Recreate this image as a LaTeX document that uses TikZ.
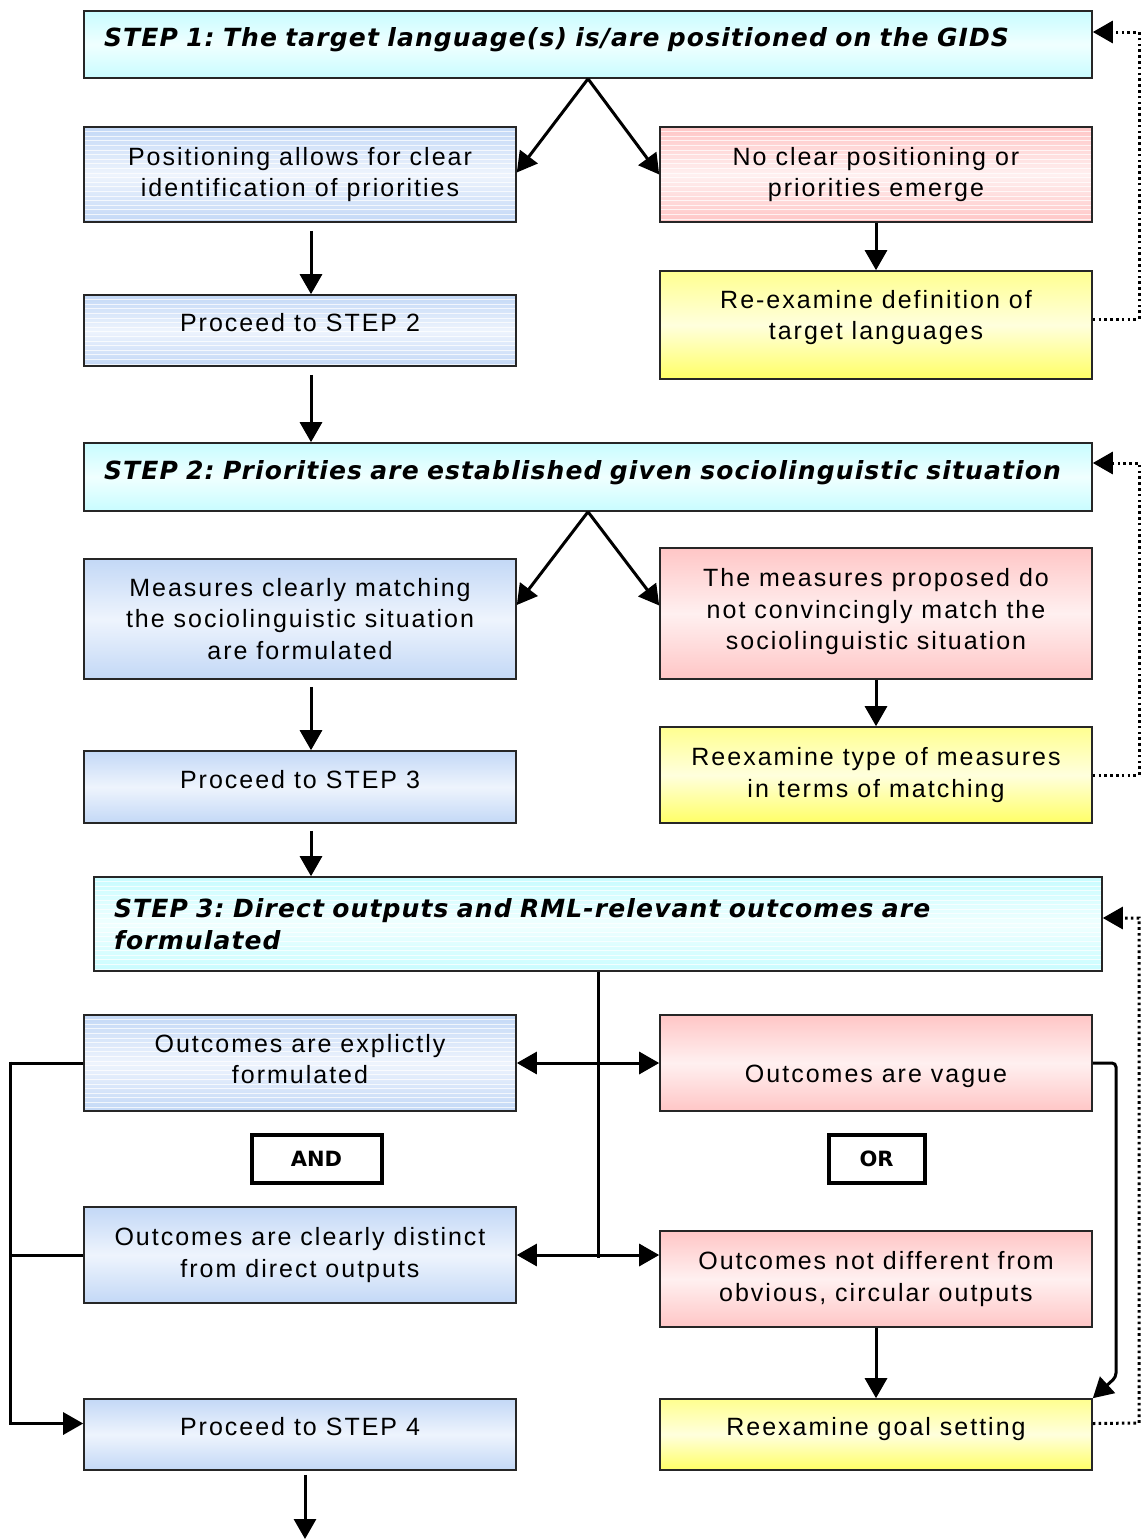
\documentclass[tikz,border=0pt]{standalone}
\usepackage{fontspec}
\setmainfont{Liberation Sans}[LetterSpace=8]
\newfontfamily\headfont{DejaVu Sans}[LetterSpace=4.5]
\newfontfamily\logicfont{DejaVu Sans}
\usetikzlibrary{arrows.meta,calc}

\definecolor{cyanA}{HTML}{C8FCFF}
\definecolor{cyanB}{HTML}{F0FFFF}
\definecolor{blueA}{HTML}{C3D8F6}
\definecolor{blueB}{HTML}{EEF4FD}
\definecolor{pinkA}{HTML}{FFC6C6}
\definecolor{pinkB}{HTML}{FFF0F0}
\definecolor{yelA}{HTML}{FFFF66}
\definecolor{yelB}{HTML}{FFFFDD}
\definecolor{yelC}{HTML}{FFFF90}

\tikzset{
  box/.style={draw=black!85, line width=1.6pt, minimum width=432pt, align=center,
    font=\frenchspacing\fontsize{25}{31.5}\selectfont, inner sep=0pt},
  stepbox/.style={box, minimum width=1008pt, text width=968pt, align=left,
    top color=cyanA, bottom color=cyanA, middle color=cyanB,
    font=\frenchspacing\headfont\bfseries\itshape\fontsize{25}{32}\selectfont},
  bluebox/.style={box, top color=blueA, bottom color=blueA, middle color=blueB},
  pinkbox/.style={box, top color=pinkA, bottom color=pinkA, middle color=pinkB},
  yelbox/.style={box, top color=yelC, bottom color=yelA, middle color=yelB},
  striped/.style={path picture={
    \foreach \k in {1,...,45}
      \draw[white, line width=0.9pt, opacity=0.75]
        ($(path picture bounding box.north west)+(0,\k*4.6)$) -- +(1100,0);}},
  logicbox/.style={draw=black, line width=4pt, fill=white, inner sep=0pt,
    minimum height=48pt, font=\logicfont\bfseries\fontsize{21}{24}\selectfont},
  arr/.style={line width=3pt, -{Triangle[length=20pt,width=22pt]}},
  dbl/.style={line width=3pt, {Triangle[length=20pt,width=22pt]}-{Triangle[length=20pt,width=22pt]}},
  link/.style={line width=3pt},
  fb/.style={line width=3pt, dash pattern=on 2.6pt off 3.2pt, -{Triangle[length=20pt,width=22pt]}},
}

\begin{document}
\begin{tikzpicture}[x=1pt,y=-1pt]
\useasboundingbox (0,0) rectangle (1144,1539);

% ---- step 1 ----
\node[stepbox, minimum height=67pt, text depth=14pt] (s1) at (588,44.5)
  {STEP 1: The target language(s) is/are positioned on the GIDS};
\node[bluebox, striped, minimum height=95pt] (b1) at (300,174.5)
  {Positioning allows for clear\\identification of priorities};
\node[pinkbox, striped, minimum height=95pt] (p1) at (876,174.5)
  {No clear positioning or\\priorities emerge};
\node[bluebox, striped, minimum height=71pt, text depth=16pt] (b2) at (300,330.5)
  {Proceed to STEP 2};
\node[yelbox, minimum height=108pt, text depth=20pt] (y1) at (876,325)
  {Re-examine definition of\\target languages};

% ---- step 2 ----
\node[stepbox, minimum height=68pt, text depth=14pt] (s2) at (588,477)
  {STEP 2: Priorities are established given sociolinguistic situation};
\node[bluebox, minimum height=120pt] (b3) at (300,619)
  {Measures clearly matching\\the sociolinguistic situation\\are formulated};
\node[pinkbox, minimum height=131pt, text depth=9pt] (p2) at (876,613.5)
  {The measures proposed do\\not convincingly match the\\sociolinguistic situation};
\node[bluebox, minimum height=72pt, text depth=16pt] (b4) at (300,787)
  {Proceed to STEP 3};
\node[yelbox, minimum height=96pt] (y2) at (876,775)
  {Reexamine type of measures\\in terms of matching};

% ---- step 3 ----
\node[stepbox, striped, minimum height=94pt] (s3) at (598,924)
  {STEP 3: Direct outputs and RML-relevant outcomes are\\formulated};
\node[bluebox, striped, minimum height=96pt, text depth=8pt] (b5) at (300,1063)
  {Outcomes are explictly\\formulated};
\node[pinkbox, minimum height=96pt, text height=44pt] (p3) at (876,1063)
  {Outcomes are vague};
\node[logicbox, minimum width=130pt] (and) at (316.5,1158.5) {AND};
\node[logicbox, minimum width=96pt] (or) at (876.5,1158.5) {OR};
\node[bluebox, minimum height=96pt] (b6) at (300,1255)
  {Outcomes are clearly distinct\\from direct outputs};
\node[pinkbox, minimum height=96pt] (p4) at (876,1279)
  {Outcomes not different from\\obvious, circular outputs};
\node[bluebox, minimum height=71pt, text depth=16pt] (b7) at (300,1434.5)
  {Proceed to STEP 4};
\node[yelbox, minimum height=71pt, text depth=16pt] (y3) at (876,1434.5)
  {Reexamine goal setting};

\coordinate (end) at (305,1539);
\coordinate (hub) at (598,1258);

% ---- connectors ----
\draw[arr] (s1.south) -- ([yshift=2pt]b1.east);
\draw[arr] (s1.south) -- (p1.west);
\draw[arr] ([xshift=11pt,yshift=-8pt]b1.south) -- ([xshift=11pt]b2.north);
\draw[arr] (p1.south) -- (y1.north);
\draw[arr] ([xshift=11pt,yshift=-8pt]b2.south) -- ([xshift=11pt]s2.north -| b2.south);

\draw[arr] (s2.south) -- ([yshift=14pt]b3.east);
\draw[arr] (s2.south) -- ([yshift=8pt]p2.west);
\draw[arr] ([xshift=11pt,yshift=-7pt]b3.south) -- ([xshift=11pt]b4.north);
\draw[arr] (p2.south) -- (y2.north);
\draw[arr] ([xshift=11pt,yshift=-7pt]b4.south) -- ([xshift=11pt]s3.north -| b4.south);

\draw[link] (s3.south) -- (hub);
\draw[dbl] (b5.east) -- (p3.west);
\draw[dbl] (b6.east) -- (p4.west |- b6.east);
\draw[arr] (p4.south) -- (y3.north);
\draw[link] (b5.west) -- (10,1063);
\draw[link] (b6.west) -- (10,1255);
\draw[arr] (10,1061.5) |- ([yshift=11pt]b7.west);
\draw[arr, rounded corners=4pt] (p3.east) -- (1116,1063) -- (1116,1377) -- (y3.north east);
\draw[arr] ([xshift=5pt,yshift=-4pt]b7.south) -- (end);

% ---- feedback loops ----
\draw[fb] ([yshift=6pt]y1.east) -- (1139,319) |- ($(s1.east)+(0,-12.5)$);
\draw[fb] (y2.east) -- (1139,775) |- ($(s2.east)+(0,-14)$);
\draw[fb] ([yshift=11pt]y3.east) -- (1139,1423) |- ($(s3.east)+(0,-6)$);
\end{tikzpicture}
\end{document}
